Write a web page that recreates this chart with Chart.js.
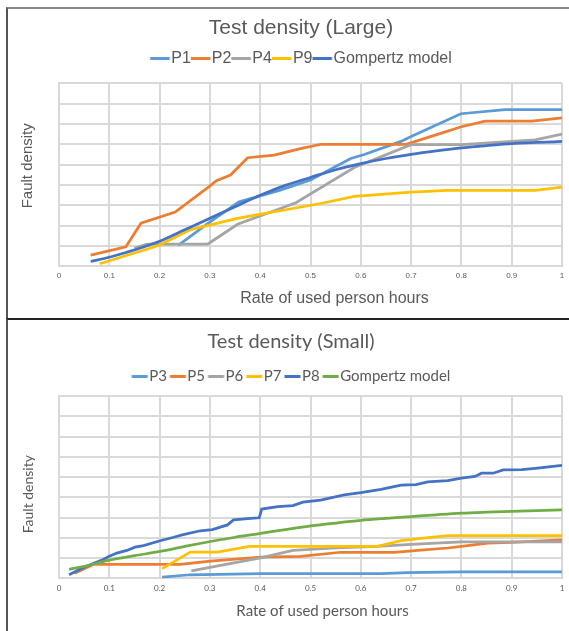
<!DOCTYPE html>
<html>
<head>
<meta charset="utf-8">
<script src="https://cdn.jsdelivr.net/npm/chart.js@4.4.1/dist/chart.umd.min.js"></script>
<style>
  html, body { margin: 0; padding: 0; background: #fff; overflow: hidden; width: 569px; height: 631px; }
  .panel { position: absolute; left: 6px; width: 640px; border-left: 2px solid #555; }
  #p1 { top: 7px; height: 311px; border-top: 2px solid #8a8a8a; }
  #p2 { top: 318px; height: 330px; border-top: 2px solid #222; }
  canvas { position: absolute; left: 8px; }
  #c1 { top: 9px; }
  #c2 { top: 321px; }
</style>
</head>
<body>
<div class="panel" id="p1"></div>
<div class="panel" id="p2"></div>
<canvas id="c1" width="586" height="309"></canvas>
<canvas id="c2" width="566" height="310"></canvas>
<script>
// x ticks (rate of used person hours) and horizontal grid steps (no labels shown)
const xTicks = [0, 0.1, 0.2, 0.3, 0.4, 0.5, 0.6, 0.7, 0.8, 0.9, 1]
const xTickLabels = ["0", "0.1", "0.2", "0.3", "0.4", "0.5", "0.6", "0.7", "0.8", "0.9", "1"]
const yGrid = [0, 1, 2, 3, 4, 5, 6, 7, 8, 9]

// Test density (Large) - [x, y] in grid units
const largeNames = ["P1", "P2", "P4", "P9", "Gompertz model"]
const p1 = [[0.237,1.03],[0.301,2.2],[0.358,3.17],[0.381,3.33],[0.44,3.75],[0.5,4.25],[0.58,5.3],[0.607,5.5],[0.68,6.14],[0.7,6.38],[0.799,7.5],[0.887,7.7],[1.0,7.7]]
const p2 = [[0.063,0.55],[0.133,0.96],[0.163,2.12],[0.231,2.67],[0.301,3.97],[0.313,4.21],[0.341,4.49],[0.375,5.34],[0.428,5.47],[0.48,5.79],[0.521,6.0],[0.69,6.0],[0.754,6.5],[0.8,6.86],[0.847,7.14],[0.94,7.14],[1.0,7.3]]
const p4 = [[0.15,0.9],[0.175,1.1],[0.296,1.1],[0.355,2.07],[0.471,3.13],[0.587,4.86],[0.7,5.98],[0.8,5.98],[0.947,6.22],[1.0,6.5]]
const p9 = [[0.081,0.13],[0.178,0.87],[0.2,1.05],[0.261,1.8],[0.301,2.04],[0.355,2.36],[0.401,2.57],[0.448,2.77],[0.52,3.09],[0.587,3.44],[0.7,3.65],[0.773,3.73],[0.947,3.73],[1.0,3.89]]
const gompLarge = [[0.063,0.24],[0.1,0.45],[0.133,0.68],[0.2,1.24],[0.25,1.8],[0.3,2.36],[0.35,2.93],[0.4,3.49],[0.45,3.98],[0.5,4.37],[0.55,4.75],[0.6,5.05],[0.65,5.3],[0.7,5.5],[0.75,5.67],[0.8,5.82],[0.85,5.93],[0.9,6.03],[0.95,6.09],[1.0,6.14]]

// Test density (Small)
const smallNames = ["P3", "P5", "P6", "P7", "P8", "Gompertz model"]
const p3 = [[0.205,0.06],[0.261,0.18],[0.401,0.23],[0.64,0.23],[0.693,0.29],[0.8,0.32],[1.0,0.32]]
const p5 = [[0.031,0.26],[0.068,0.69],[0.241,0.69],[0.301,0.85],[0.401,1.05],[0.48,1.09],[0.56,1.29],[0.667,1.29],[0.713,1.38],[0.773,1.5],[0.8,1.58],[0.853,1.74],[0.9,1.78],[1.0,1.9]]
const p6 = [[0.263,0.37],[0.401,1.01],[0.465,1.38],[0.55,1.5],[0.633,1.58],[0.7,1.68],[0.8,1.8],[1.0,1.8]]
const p7 = [[0.205,0.48],[0.261,1.3],[0.315,1.3],[0.378,1.58],[0.633,1.58],[0.68,1.86],[0.72,1.98],[0.773,2.11],[1.0,2.11]]
const p8 = [[0.02,0.18],[0.048,0.53],[0.068,0.74],[0.088,0.93],[0.1,1.09],[0.115,1.25],[0.135,1.38],[0.151,1.54],[0.168,1.62],[0.201,1.86],[0.228,2.03],[0.245,2.15],[0.281,2.35],[0.305,2.41],[0.335,2.64],[0.347,2.89],[0.381,2.96],[0.398,2.99],[0.403,3.42],[0.435,3.54],[0.465,3.59],[0.485,3.76],[0.52,3.86],[0.567,4.12],[0.6,4.23],[0.64,4.39],[0.68,4.6],[0.71,4.63],[0.733,4.76],[0.773,4.82],[0.8,4.95],[0.827,5.03],[0.84,5.19],[0.863,5.19],[0.883,5.35],[0.92,5.37],[0.947,5.43],[0.973,5.5],[1.0,5.58]]
const gompSmall = [[0.02,0.45],[0.048,0.58],[0.1,0.9],[0.15,1.12],[0.201,1.33],[0.25,1.58],[0.301,1.82],[0.35,2.03],[0.401,2.22],[0.45,2.41],[0.501,2.59],[0.55,2.73],[0.6,2.86],[0.65,2.96],[0.7,3.05],[0.75,3.14],[0.8,3.22],[0.85,3.27],[0.9,3.31],[0.95,3.35],[1.0,3.38]]

const TEXT = "#595959"
const GRID = "#d9d9d9"

// legend.fit has no option for a gap under the legend, so stretch it a little
const legendGap = {
    id: "legendGap",
    beforeInit(chart, args, opts) {
        const legend = chart.legend
        const fit = legend.fit
        legend.fit = function () {
            fit.call(this)
            this.height += opts.extra || 0
        }
    }
}

// axis titles sit off-centre in the original, so draw them ourselves
const axisTitles = {
    id: "axisTitles",
    afterDraw(chart, args, opts) {
        const {ctx, chartArea} = chart
        const midX = (chartArea.left + chartArea.right) / 2
        const midY = (chartArea.top + chartArea.bottom) / 2
        ctx.save()
        ctx.fillStyle = TEXT
        ctx.textAlign = "center"
        ctx.textBaseline = "middle"
        ctx.font = opts.xSize + "px " + opts.family
        ctx.fillText(opts.xText, midX + opts.xShift, opts.xY)
        ctx.translate(opts.yX, midY + opts.yShift)
        ctx.rotate(-Math.PI / 2)
        ctx.font = opts.ySize + "px " + opts.family
        ctx.fillText(opts.yText, 0, 0)
        ctx.restore()
    }
}

// excel style legend key: a short line that runs right up to the label
function lineKey(color, boxWidth, fontSize) {
    const half = fontSize / 2
    const c = document.createElement("canvas")
    c.width = boxWidth + fontSize
    c.height = 3
    const g = c.getContext("2d")
    g.fillStyle = color
    g.fillRect(half, 0, c.width - half - 1.5, 3)
    return c
}

function series(label, pts, color, order, smooth) {
    return {
        label,
        data: pts.map(p => ({x: p[0], y: p[1]})),
        borderColor: color,
        backgroundColor: color,
        borderWidth: 2.75,
        pointRadius: 0,
        fill: false,
        order,
        cubicInterpolationMode: smooth ? "monotone" : "default",
        tension: smooth ? 0.4 : 0
    }
}

function makeChart(el, cfg) {
    const f = cfg.font
    return new Chart(el, {
        type: "line",
        data: {datasets: cfg.datasets},
        plugins: [legendGap, axisTitles],
        options: {
            responsive: false,
            animation: false,
            layout: {padding: {bottom: cfg.padBottom}},
            plugins: {
                legendGap: {extra: cfg.legendExtra},
                axisTitles: {
                    family: f,
                    xText: "Rate of used person hours", xSize: cfg.axisSize, xShift: cfg.xTitleShift, xY: 290,
                    yText: "Fault density", ySize: cfg.yTitleSize, yShift: cfg.yTitleShift, yX: 20
                },
                tooltip: {enabled: false},
                title: {
                    display: true,
                    text: cfg.title,
                    color: TEXT,
                    font: {family: f, size: cfg.titleSize, weight: "normal"},
                    padding: cfg.titlePad
                },
                legend: {
                    position: "top",
                    labels: {
                        color: TEXT,
                        font: {family: f, size: cfg.legendSize},
                        usePointStyle: true,
                        pointStyleWidth: cfg.boxWidth,
                        padding: cfg.legendPad,
                        generateLabels: chart => chart.data.datasets.map((d, i) => ({
                            text: d.label,
                            fillStyle: d.borderColor,
                            strokeStyle: d.borderColor,
                            lineWidth: 0,
                            pointStyle: lineKey(d.borderColor, cfg.boxWidth, cfg.legendSize),
                            hidden: false,
                            datasetIndex: i,
                            fontColor: TEXT
                        }))
                    }
                }
            },
            scales: {
                x: {
                    type: "linear",
                    min: 0,
                    max: 1,
                    afterBuildTicks: s => { s.ticks = xTicks.map(v => ({value: v})) },
                    afterFit: s => { s.paddingRight = cfg.padRight },
                    ticks: {
                        color: TEXT, font: {family: f, size: 8}, padding: 5, maxRotation: 0, autoSkip: false,
                        callback: (v, i) => xTickLabels[i]
                    },
                    grid: {color: GRID, lineWidth: 2, drawTicks: false},
                    border: {color: GRID, width: 2}
                },
                y: {
                    min: 0,
                    max: 9,
                    afterBuildTicks: s => { s.ticks = yGrid.map(v => ({value: v})) },
                    afterFit: s => { s.width = 51 },
                    ticks: {display: false},
                    grid: {color: GRID, lineWidth: 2, drawTicks: false},
                    border: {color: GRID, width: 2}
                }
            }
        }
    })
}

const largeColors = ["#5B9BD5", "#ED7D31", "#A5A5A5", "#FFC000", "#4472C4"]
const largeData = [p1, p2, p4, p9, gompLarge]
makeChart(document.getElementById("c1"), {
    font: "'Liberation Sans', Arial, sans-serif",
    title: "Test density (Large)",
    titleSize: 21,
    titlePad: {top: 7, bottom: 9},
    legendSize: 16,
    legendPad: 0,
    boxWidth: 13,
    legendExtra: 7,
    axisSize: 16,
    xTitleShift: 24,
    yTitleSize: 15,
    yTitleShift: -9,
    padBottom: 32,
    padRight: 32,
    datasets: largeData.map((d, i) => series(largeNames[i], d, largeColors[i], largeData.length - i, i === 4))
})

const smallColors = ["#5B9BD5", "#ED7D31", "#A5A5A5", "#FFC000", "#4472C4", "#70AD47"]
const smallData = [p3, p5, p6, p7, p8, gompSmall]
makeChart(document.getElementById("c2"), {
    font: "Lato, sans-serif",
    title: "Test density (Small)",
    titleSize: 20,
    titlePad: {top: 9, bottom: 12},
    legendSize: 15,
    legendPad: 3,
    boxWidth: 10,
    legendExtra: 2,
    axisSize: 15,
    xTitleShift: 12,
    yTitleSize: 14,
    yTitleShift: 7,
    padBottom: 33,
    padRight: 12,
    datasets: smallData.map((d, i) => series(smallNames[i], d, smallColors[i], smallData.length - i, i === 5))
})
</script>
</body>
</html>
